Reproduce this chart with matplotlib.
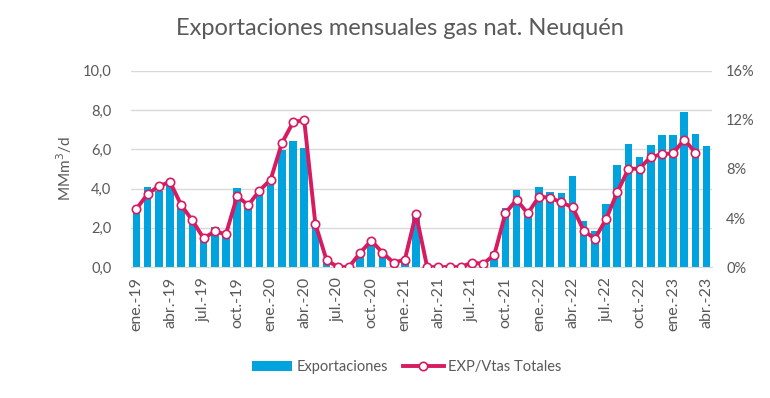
import numpy as np
import matplotlib
matplotlib.use('Agg')
import matplotlib.pyplot as plt
from matplotlib.ticker import FuncFormatter, MultipleLocator

plt.rcParams['font.family'] = 'Lato'

# --- Data ---
months = ['ene', 'feb', 'mar', 'abr', 'may', 'jun', 'jul', 'ago', 'sep', 'oct', 'nov', 'dic']
periods = [f'{m}.-{y}' for y in range(19, 24) for m in months][:52]

exportaciones = [3.0, 4.1, 3.9, 4.2, 3.0, 2.25, 1.47, 2.06, 1.69, 4.02, 3.0, 3.68,
                 4.16, 5.95, 6.44, 6.08, 2.28, 0.4, 0.0, 0.0, 0.58, 1.21, 0.58, 0.2,
                 0.3, 2.54, 0.0, 0.0, 0.0, 0.0, 0.15, 0.1, 0.75, 3.03, 3.92, 2.8,
                 4.07, 3.85, 3.76, 4.62, 2.37, 1.86, 3.22, 5.18, 6.29, 5.62, 6.24, 6.73,
                 6.73, 7.89, 6.8, 6.18]

exp_vtas = [4.75, 5.96, 6.6, 6.94, 5.05, 3.8, 2.35, 2.9, 2.68, 5.77, 5.05, 6.23,
            7.13, 10.1, 11.8, 12.0, 3.52, 0.57, 0.0, 0.0, 1.15, 2.16, 1.17, 0.36,
            0.6, 4.34, 0.0, 0.0, 0.0, 0.0, 0.36, 0.27, 0.98, 4.4, 5.49, 4.37,
            5.74, 5.66, 5.27, 4.89, 2.98, 2.3, 3.9, 6.09, 8.0, 8.03, 8.99, 9.18,
            9.29, 10.4, 9.32, np.nan]

gray = '#595959'
blue = '#00a3dd'
crimson = '#d81b60'

x = np.arange(len(periods))

fig = plt.figure(figsize=(7.7, 3.98), dpi=100)
ax = fig.add_axes([0.170, 0.329, 0.755, 0.493])

ax.bar(x, exportaciones, width=0.68, color=blue, zorder=2, label='Exportaciones')
ax.set_ylim(0, 10)
ax.set_xlim(-0.5, len(periods) - 0.5)
ax.yaxis.set_major_locator(MultipleLocator(2))
ax.yaxis.set_major_formatter(FuncFormatter(lambda v, p: f'{v:.1f}'.replace('.', ',')))
ax.grid(axis='y', color='#d9d9d9', linewidth=1, zorder=0)
ax.set_axisbelow(True)
ax.set_xticks(x[::3])
ax.set_xticklabels(periods[::3], rotation=90, fontsize=11.5, color=gray)
ax.tick_params(axis='y', labelsize=10.5, colors=gray, length=0, pad=14)
ax.tick_params(axis='x', length=0, pad=7)
for s in ['top', 'right', 'left']:
    ax.spines[s].set_visible(False)
ax.spines['bottom'].set_color('#d9d9d9')
ax.set_ylabel('MMm$^3$/d', fontsize=11, color=gray, labelpad=6)

ax2 = ax.twinx()
ax2.plot(x, exp_vtas, color=crimson, linewidth=2.8, marker='o', markersize=6,
         markerfacecolor='white', markeredgecolor=crimson, markeredgewidth=1.2,
         zorder=3, label='EXP/Vtas Totales')
ax2.set_ylim(0, 16)
ax2.yaxis.set_major_locator(MultipleLocator(4))
ax2.yaxis.set_major_formatter(FuncFormatter(lambda v, p: f'{v:.0f}%'))
ax2.tick_params(axis='y', labelsize=10.5, colors=gray, length=0, pad=10)
for s in ['top', 'right', 'left', 'bottom']:
    ax2.spines[s].set_visible(False)

fig.suptitle('Exportaciones mensuales gas nat. Neuquén', x=0.519, y=0.955,
             fontsize=17, color=gray)

h1, l1 = ax.get_legend_handles_labels()
h2, l2 = ax2.get_legend_handles_labels()
fig.legend(h1 + h2, l1 + l2, loc='center', bbox_to_anchor=(0.528, 0.077), ncol=2,
           frameon=False, fontsize=10.5, labelcolor=gray, handlelength=2.8,
           columnspacing=1.0, handletextpad=0.3)

fig.savefig('out.png', dpi=100)
